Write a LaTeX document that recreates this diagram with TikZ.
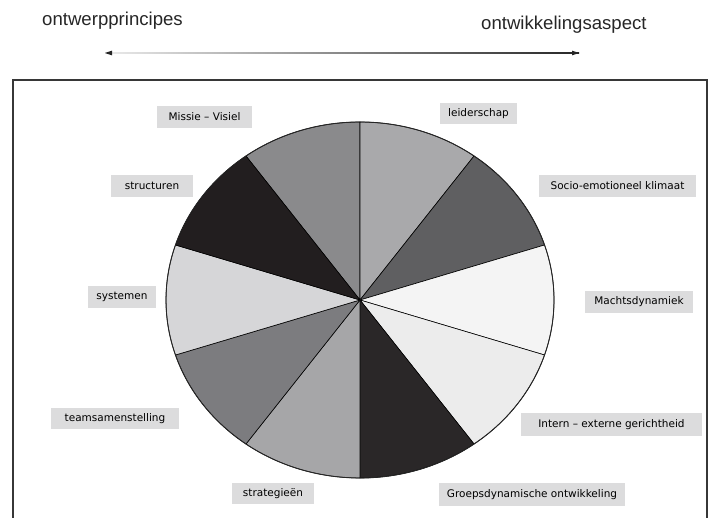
\documentclass[tikz,border=0pt]{standalone}
\usepackage{fontspec}
\setmainfont{DejaVu Sans}
\newfontfamily\arialfont{Liberation Sans}
\definecolor{boxgray}{RGB}{220,220,221}
\definecolor{cMissie}{RGB}{138,138,140}
\definecolor{cLeider}{RGB}{169,169,171}
\definecolor{cSocio}{RGB}{95,95,97}
\definecolor{cMacht}{RGB}{244,244,244}
\definecolor{cIntern}{RGB}{236,236,236}
\definecolor{cGroeps}{RGB}{42,39,40}
\definecolor{cStrat}{RGB}{166,166,168}
\definecolor{cTeams}{RGB}{124,124,127}
\definecolor{cSys}{RGB}{214,214,216}
\definecolor{cStruct}{RGB}{34,30,31}
\definecolor{framegray}{RGB}{55,55,55}
\begin{document}
\begin{tikzpicture}[x=1pt,y=1pt,
  lab/.style={fill=boxgray, inner sep=0pt, anchor=center, font=\fontsize{10.5}{12}\selectfont},
  slice/.style={draw=black, line width=0.6pt, line join=round},
  toptext/.style={anchor=base west, inner sep=0pt, font=\arialfont\fontsize{18.6}{20}\selectfont, text=black!85},
  headtip/.style={fill=black!85}]
\useasboundingbox (0,0) rectangle (711,518);
\clip (0,0) rectangle (711,518);
% top texts and arrow
\node[toptext] (tl) at (42,492) {ontwerpprincipes};
\node[toptext] (tr) at (481,488) {ontwikkelingsaspect};
\coordinate (aL) at (105,465);
\coordinate (aR) at (579,465);
\shade[left color=black!8, right color=black!85] ([yshift=-0.55pt]aL) rectangle ([yshift=0.55pt]aR);
\fill[headtip] (aL) -- ([xshift=7pt,yshift=2.4pt]aL) -- ([xshift=7pt,yshift=-2.4pt]aL) -- cycle;
\fill[headtip] (aR) -- ([xshift=-7pt,yshift=2.4pt]aR) -- ([xshift=-7pt,yshift=-2.4pt]aR) -- cycle;
% frame
\draw[framegray, line width=1.4pt] (13,-20) rectangle (707,438);
% pie
\coordinate (C) at (360,218);
\foreach \a/\c in {90/cMissie, 54/cLeider, 18/cSocio, -18/cMacht, -54/cIntern, -90/cGroeps, -126/cStrat, -162/cTeams, 162/cSys, 126/cStruct}
  \filldraw[slice, fill=\c] (C) -- ++(\a:194pt and 178pt) arc[start angle=\a, delta angle=36, x radius=194pt, y radius=178pt] -- cycle;
\draw[black!85, line width=0.9pt] (C) ellipse [x radius=194pt, y radius=178pt];
% labels
\node[lab, minimum width=95pt, minimum height=22pt] (missie) at (204.5,401) {Missie – Visiel};
\node[lab, minimum width=77pt, minimum height=21pt] (leider) at (478.5,404) {leiderschap};
\node[lab, minimum width=157pt, minimum height=22pt] (socio) at (617.5,332) {Socio-emotioneel klimaat};
\node[lab, minimum width=82pt, minimum height=22pt] (struct) at (152,332) {structuren};
\node[lab, minimum width=68pt, minimum height=22pt] (sys) at (122,221) {systemen};
\node[lab, minimum width=108pt, minimum height=22pt] (macht) at (639,216) {Machtsdynamiek};
\node[lab, minimum width=128pt, minimum height=21pt] (teams) at (115,99.5) {teamsamenstelling};
\node[lab, minimum width=181pt, minimum height=23pt] (intern) at (611.5,93.5) {Intern – externe gerichtheid};
\node[lab, minimum width=82pt, minimum height=21pt] (strat) at (273,24.5) {strategieën};
\node[lab, minimum width=186pt, minimum height=23pt] (groeps) at (532,23.5) {Groepsdynamische ontwikkeling};
\end{tikzpicture}
\end{document}
